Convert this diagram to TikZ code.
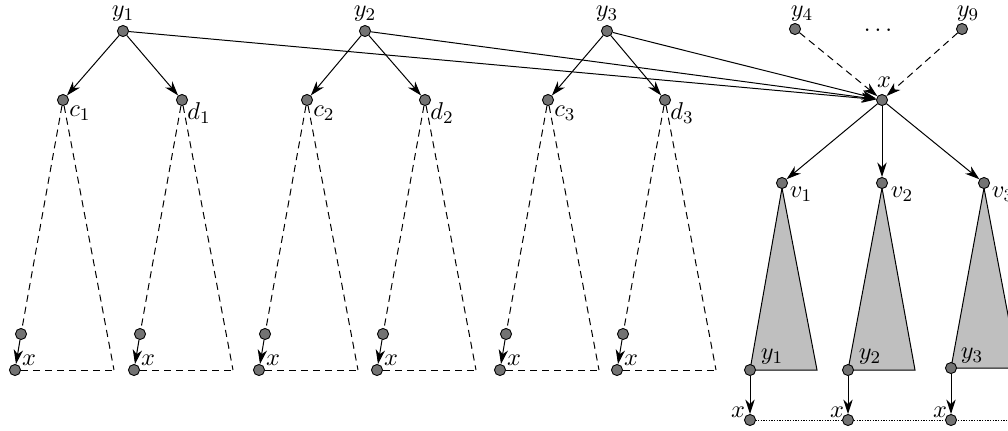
\documentclass[tikz,border=0pt]{standalone}
\usetikzlibrary{arrows.meta}
\begin{document}
\begin{tikzpicture}[x=0.45pt,y=-0.45pt,
  dot/.style={circle,draw=black,fill=black!55,inner sep=0pt,minimum size=5pt,line width=0.4pt},
  arr/.style={-{Stealth[length=6.5pt,width=4.2pt,inset=2pt]},line width=0.45pt},
  dsh/.style={dash pattern=on 3.2pt off 2.2pt,line width=0.45pt},
  dotl/.style={dash pattern=on 0.6pt off 0.6pt,line width=0.45pt},
  tri/.style={fill=black!25,draw=black,line width=0.45pt},
  lbl/.style={inner sep=0pt,font=\fontsize{11}{13}\selectfont}]
\useasboundingbox (0,0) rectangle (1008,430);

% gray triangles
\filldraw[tri] (782,188) -- (750,370) -- (817,370) -- cycle;
\filldraw[tri] (882,188) -- (848,370) -- (915,370) -- cycle;
\filldraw[tri] (984,188) -- (951,368) -- (1018,368) -- cycle;

% top nodes
\node[dot] (y1) at (123,31) {};
\node[dot] (y2) at (365,31) {};
\node[dot] (y3) at (607,31) {};
\node[dot] (y4) at (795,29) {};
\node[dot] (y9) at (962,29) {};
\node[dot] (x) at (882,100) {};
\node[lbl] (ly1) at (123,14) {$y_1$};
\node[lbl] (ly2) at (365,14) {$y_2$};
\node[lbl] (ly3) at (607,14) {$y_3$};
\node[lbl] (ly4) at (802,14) {$y_4$};
\node[lbl] (ly9) at (968,14) {$y_9$};
\node[lbl] (dots) at (878,30) {$\dots$};
\node[lbl] (lx) at (884,82) {$x$};

% dashed subtrees
\foreach \n/\px/\lab in {c1/63/c_1, d1/182/d_1, c2/307/c_2, d2/425/d_2, c3/548/c_3, d3/665/d_3}{
  \node[dot] (\n) at (\px,100) {};
  \node[lbl] (l\n) at (\px+17,113) {$\lab$};
  \node[dot] (s\n) at (\px-42,334) {};
  \node[dot] (b\n) at (\px-48,370) {};
  \coordinate (r\n) at (\px+51,370);
  \node[lbl] (lb\n) at (\px-34,360) {$x$};
  \draw[dsh] (\n) -- (s\n);
  \draw[dsh] (\n) -- (r\n);
  \draw[dsh] (b\n) -- (r\n);
  \draw[arr] (s\n) -- (b\n);
}

\draw[arr] (y1) -- (c1);
\draw[arr] (y1) -- (d1);
\draw[arr] (y2) -- (c2);
\draw[arr] (y2) -- (d2);
\draw[arr] (y3) -- (c3);
\draw[arr] (y3) -- (d3);
\draw[arr] (y1) -- (x);
\draw[arr] (y2) -- (x);
\draw[arr] (y3) -- (x);
\draw[arr,dsh] (y4) -- (x);
\draw[arr,dsh] (y9) -- (x);

% right part
\node[dot] (v1) at (782,183) {};
\node[dot] (v2) at (882,183) {};
\node[dot] (v3) at (984,183) {};
\node[lbl] (lv1) at (801,194) {$v_1$};
\node[lbl] (lv2) at (902,194) {$v_2$};
\node[lbl] (lv3) at (1003,194) {$v_3$};
\draw[arr] (x) -- (v1);
\draw[arr] (x) -- (v2);
\draw[arr] (x) -- (v3);

\coordinate (dend) at (1012,420);
\draw[dotl] (750,420) -- (dend);

\node[dot] (yb1) at (750,370) {};
\node[dot] (yb2) at (848,370) {};
\node[dot] (yb3) at (951,368) {};
\node[lbl] (lyb1) at (772,357) {$y_1$};
\node[lbl] (lyb2) at (870,357) {$y_2$};
\node[lbl] (lyb3) at (972,356) {$y_3$};
\node[dot] (xb1) at (750,420) {};
\node[dot] (xb2) at (848,420) {};
\node[dot] (xb3) at (951,420) {};
\node[lbl] (lxb1) at (738,412) {$x$};
\node[lbl] (lxb2) at (837,412) {$x$};
\node[lbl] (lxb3) at (940,412) {$x$};
\draw[arr] (yb1) -- (xb1);
\draw[arr] (yb2) -- (xb2);
\draw[arr] (yb3) -- (xb3);
\end{tikzpicture}
\end{document}
